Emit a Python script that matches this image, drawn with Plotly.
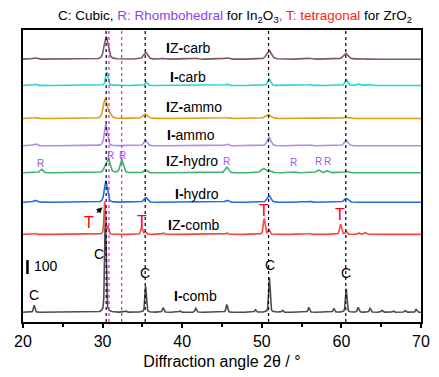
import numpy as np
import plotly.graph_objects as go

# ---------------- data ----------------
# intensities in counts (100-count scale bar shown on chart)
SAMPLES = ["IZ-carb", "I-carb", "IZ-ammo", "I-ammo", "IZ-hydro", "I-hydro", "IZ-comb", "I-comb"]
OFFSETS = [1890, 1701, 1463, 1267, 1073, 861, 630, 70]

IZ_CARB_POS = [21.5, 30.45, 35.4, 37.6, 41.8, 45.6, 50.9, 56.0, 60.55, 62.2]
IZ_CARB_H   = [10, 161, 49, 6, 6, 10, 63, 7, 42, 6]
IZ_CARB_W   = [0.6, 0.6, 0.6, 0.6, 0.6, 0.6, 0.7, 0.6, 0.7, 0.6]

I_CARB_POS = [21.5, 30.52, 35.45, 45.6, 50.9, 56.0, 60.6, 62.2, 63.6]
I_CARB_H   = [10, 95, 25, 10, 49, 7, 42, 10, 7]
I_CARB_W   = [0.4, 0.35, 0.35, 0.4, 0.4, 0.4, 0.4, 0.4, 0.4]

IZ_AMMO_POS = [21.5, 30.3, 30.75, 35.35, 45.6, 50.8, 60.5]
IZ_AMMO_H   = [7, 126, 35, 32, 7, 28, 10]
IZ_AMMO_W   = [0.6, 0.55, 0.7, 0.7, 0.6, 0.8, 0.8]

I_AMMO_POS = [21.5, 30.4, 35.4, 45.6, 50.9, 56.0, 60.6]
I_AMMO_H   = [14, 154, 42, 12, 63, 7, 40]
I_AMMO_W   = [0.5, 0.45, 0.5, 0.5, 0.55, 0.5, 0.55]

IZ_HYDRO_POS = [22.3, 30.35, 30.75, 32.4, 35.4, 45.6, 50.2, 51.0, 54.0, 57.1, 58.2, 60.6]
IZ_HYDRO_H   = [28, 35, 91, 95, 18, 42, 32, 14, 6, 21, 14, 10]
IZ_HYDRO_W   = [0.4, 0.5, 0.5, 0.45, 0.5, 0.5, 0.6, 0.5, 0.5, 0.5, 0.5, 0.5]

I_HYDRO_POS = [21.5, 30.4, 35.4, 45.6, 50.9, 56.0, 60.6]
I_HYDRO_H   = [14, 154, 35, 14, 49, 7, 28]
I_HYDRO_W   = [0.5, 0.45, 0.5, 0.5, 0.55, 0.5, 0.55]

IZ_COMB_POS = [21.5, 30.25, 30.65, 34.9, 35.35, 37.6, 45.6, 50.3, 50.9, 56.0, 59.9, 60.6, 62.2, 63.0]
IZ_COMB_H   = [7, 238, 56, 56, 21, 10, 10, 112, 35, 7, 74, 21, 10, 14]
IZ_COMB_W   = [0.3, 0.2, 0.25, 0.25, 0.25, 0.3, 0.3, 0.28, 0.25, 0.3, 0.3, 0.25, 0.3, 0.3]

I_COMB_POS = [21.4, 30.35, 32.9, 35.4, 37.6, 39.7, 41.7, 45.6, 49.2, 50.95, 52.6,
              55.9, 59.05, 60.6, 62.1, 63.6, 65.1, 66.5, 68.0, 69.4]
I_COMB_H   = [49, 700, 10, 189, 32, 10, 28, 56, 18, 252, 14, 35, 28, 168, 35, 28, 14, 10, 14, 21]
I_COMB_W   = [0.22] * 20

PEAKS = [
    (IZ_CARB_POS, IZ_CARB_H, IZ_CARB_W),
    (I_CARB_POS, I_CARB_H, I_CARB_W),
    (IZ_AMMO_POS, IZ_AMMO_H, IZ_AMMO_W),
    (I_AMMO_POS, I_AMMO_H, I_AMMO_W),
    (IZ_HYDRO_POS, IZ_HYDRO_H, IZ_HYDRO_W),
    (I_HYDRO_POS, I_HYDRO_H, I_HYDRO_W),
    (IZ_COMB_POS, IZ_COMB_H, IZ_COMB_W),
    (I_COMB_POS, I_COMB_H, I_COMB_W),
]

COLORS = ["#7f5a5a", "#1fd6d6", "#d4a012", "#b48ae6", "#3cb371", "#1e6fe0", "#f24848", "#4d4d4d"]

REF_BLACK = [30.45, 35.35, 50.85, 60.55]      # cubic In2O3 reference lines
REF_MAGENTA = [30.8, 32.4]                     # rhombohedral In2O3 reference lines

# Phase labels: (x, y, text)
R_LABELS = [(22.2, 1143), (30.95, 1194), (32.55, 1194), (45.6, 1155), (54.0, 1148), (57.1, 1155), (58.2, 1155)]
T_LABELS = [(28.3, 714), (35.0, 723), (50.27, 805), (59.85, 770)]
C_LABELS = [(21.4, 196), (29.55, 490), (35.33, 350), (50.97, 413), (60.6, 350)]

LABEL_POS = [(37.68, 1967), (38.2, 1764), (37.68, 1547), (37.87, 1342),
             (37.68, 1155), (38.9, 924), (38.0, 700), (38.7, 187)]

# ---------------- build profiles ----------------
x = np.round(np.arange(20, 70.0001, 0.02), 3)


def profile(pos, h, w, eta=0.4):
    y = np.zeros_like(x)
    for p, a, f in zip(pos, h, w):
        d = (x - p) / f
        L = 1.0 / (1.0 + 4 * d ** 2)
        G = np.exp(-4 * np.log(2) * d ** 2)
        y += a * (eta * L + (1 - eta) * G)
    return y


fig = go.Figure()
order = list(range(len(SAMPLES)))[::-1]
for i in order:
    pos, h, w = PEAKS[i]
    fig.add_trace(go.Scatter(x=x, y=profile(pos, h, w) + OFFSETS[i], mode="lines",
                             line=dict(color=COLORS[i], width=1.6), name=SAMPLES[i],
                             showlegend=False, hoverinfo="skip"))

shapes = []
for xv in REF_BLACK:
    shapes.append(dict(type="line", xref="x", yref="paper", x0=xv, x1=xv, y0=0, y1=1,
                       line=dict(color="black", width=1.2, dash="dot")))
for xv in REF_MAGENTA:
    shapes.append(dict(type="line", xref="x", yref="paper", x0=xv, x1=xv, y0=0, y1=1,
                       line=dict(color="#ff00ff", width=1.2, dash="dot")))
# scale bar (100 counts)
shapes.append(dict(type="line", xref="x", yref="y", x0=20.56, x1=20.56, y0=345, y1=445,
                   line=dict(color="black", width=2.5)))

ann = []
FONT = "Liberation Sans, Arial, sans-serif"


def bold_label(s):
    if s.startswith("IZ-"):
        return "<b>I</b>Z<b>-</b>" + s[3:]
    return "<b>I-</b>" + s[2:]


for (lx, ly), s in zip(LABEL_POS, SAMPLES):
    ann.append(dict(x=lx, y=ly, xref="x", yref="y", text=bold_label(s), showarrow=False,
                    xanchor="left", yanchor="middle", font=dict(size=14, color="black", family=FONT)))
for lx, ly in R_LABELS:
    ann.append(dict(x=lx, y=ly, xref="x", yref="y", text="R", showarrow=False,
                    font=dict(size=10, color="#a050f0", family=FONT)))
for lx, ly in T_LABELS:
    ann.append(dict(x=lx, y=ly, xref="x", yref="y", text="T", showarrow=False,
                    font=dict(size=16, color="#ff0000", family=FONT)))
for lx, ly in C_LABELS:
    ann.append(dict(x=lx, y=ly, xref="x", yref="y", text="C", showarrow=False,
                    font=dict(size=14, color="black", family=FONT)))
ann.append(dict(x=21.1, y=400, xref="x", yref="y", text="100", showarrow=False,
                xanchor="left", yanchor="middle", font=dict(size=14, color="black", family=FONT)))
# arrow
ann.append(dict(x=29.98, y=826, xref="x", yref="y", ax=-7, ay=7, text="", showarrow=True,
                arrowhead=2, arrowsize=1, arrowwidth=1.2, arrowcolor="black", standoff=0))
# title
ann.append(dict(x=0.533, y=1.047, xref="paper", yref="paper", showarrow=False,
                xanchor="center", yanchor="middle",
                text=("C: Cubic, <span style='color:#9040f0'>R: Rhombohedral</span> for In<sub>2</sub>O<sub>3</sub>"
                      "<span style='color:#9040f0'>,</span> <span style='color:#ff2020'>T: tetragonal</span> for ZrO<sub>2</sub>"),
                font=dict(size=13.5, color="black", family=FONT)))

fig.update_layout(
    width=439, height=377,
    margin=dict(l=23, r=9, t=30, b=47),
    paper_bgcolor="white", plot_bgcolor="white",
    shapes=shapes, annotations=ann,
    font=dict(family=FONT, color="black"),
    xaxis=dict(range=[20, 70], showgrid=False, zeroline=False, showline=True, linecolor="black",
               linewidth=2, mirror=True, ticks="outside", ticklen=4, tickwidth=2, tickcolor="black",
               dtick=10, tick0=20, tickfont=dict(size=16, family=FONT),
               minor=dict(dtick=5, ticks="outside", ticklen=3, tickwidth=2, tickcolor="black"),
               title=dict(text="Diffraction angle 2θ / °", font=dict(size=16, family=FONT), standoff=7)),
    yaxis=dict(range=[0, 2100], showgrid=False, zeroline=False, showline=True, linecolor="black",
               linewidth=2, mirror=True, showticklabels=False, ticks=""),
)

fig.write_html("out.html")
